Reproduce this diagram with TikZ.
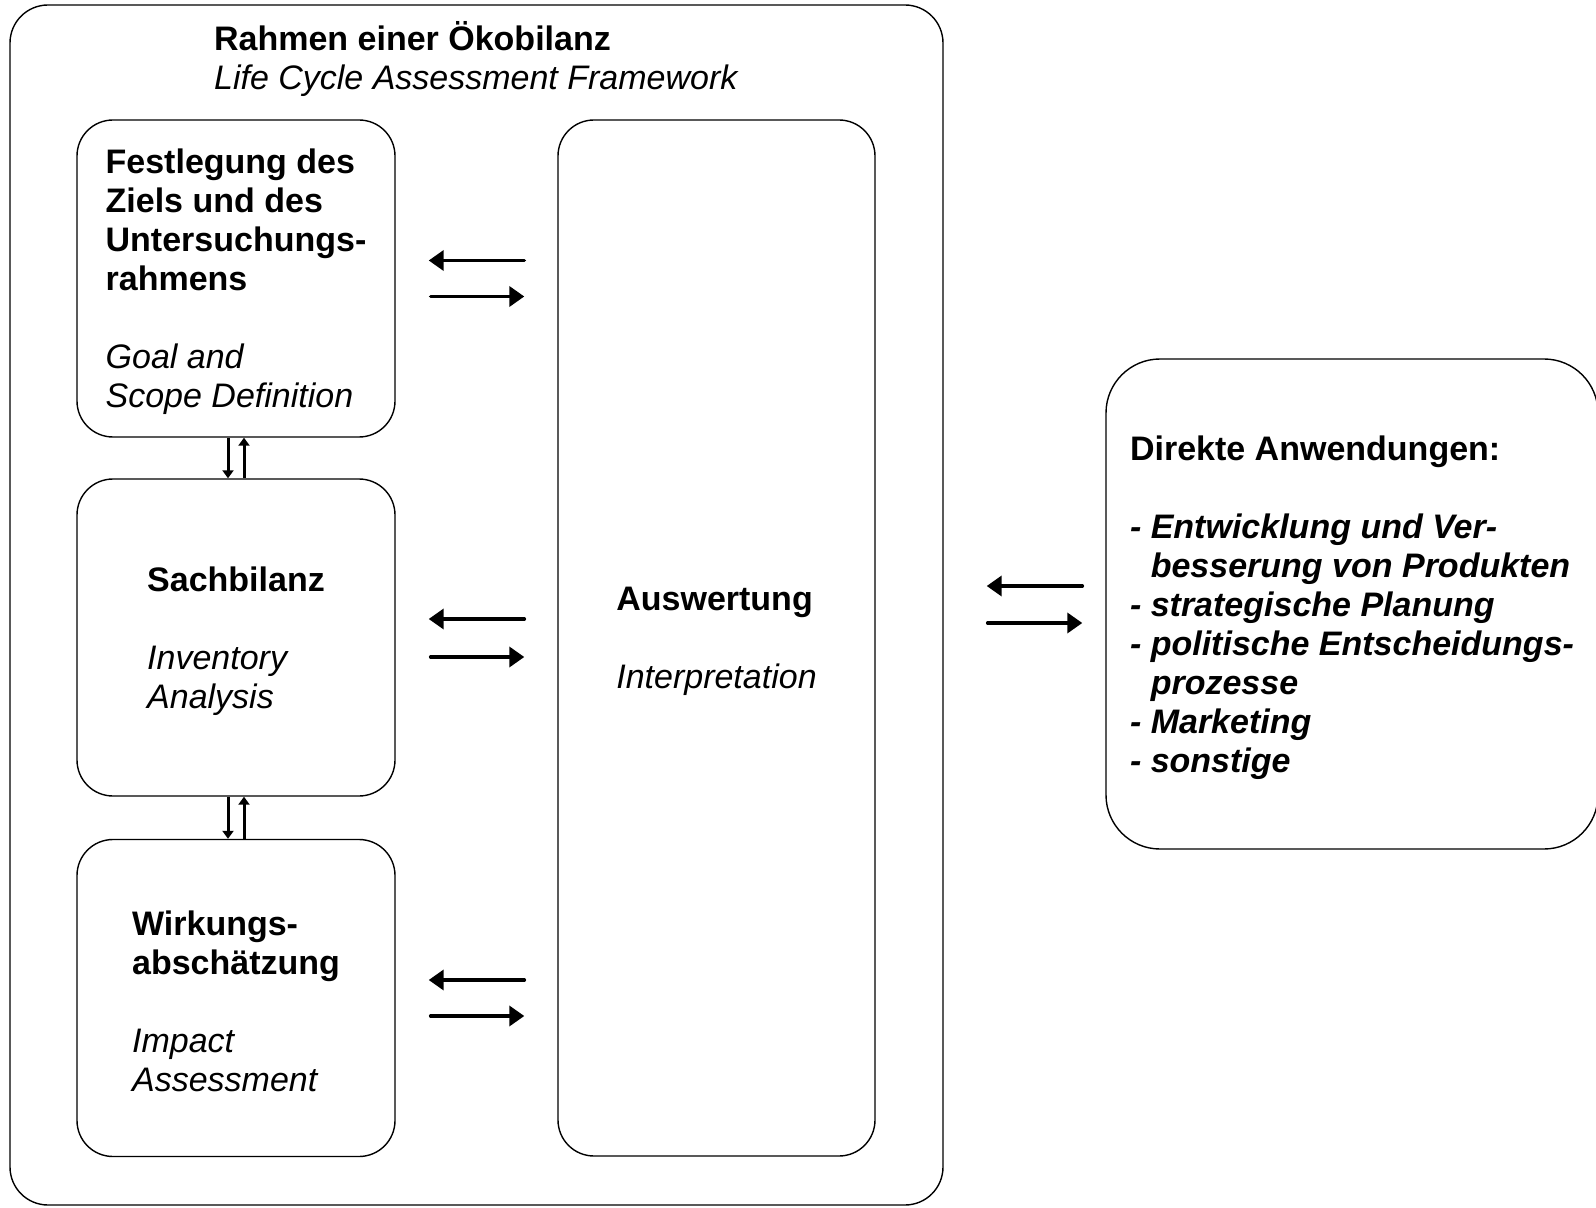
\documentclass[tikz,border=0pt]{standalone}
\usepackage{fontspec}
\setmainfont{Liberation Sans}
\usetikzlibrary{arrows.meta}
\newcommand{\anw}[1]{\textbf{\textit{#1}}}

\begin{document}
\begin{tikzpicture}[x=0.5pt, y=-0.5pt,
	box/.style={draw, rounded corners=18pt, line width=0.7pt, inner sep=0pt, minimum width=159pt, minimum height=158.5pt},
	boxtext/.style={align=left, yshift=-1.7pt},
	harr/.style={-{Triangle[length=7.5pt, width=10pt]}, line width=1.8pt, line cap=round, shorten <=16.5pt, shorten >=16.5pt},
	varr/.style={-{Triangle[length=4pt, width=5.5pt]}, line width=1.5pt},
	every node/.style={font=\fontsize{17}{19.5}\selectfont}
	]
	\useasboundingbox (0,0) rectangle (1596,1208);

	\node (rahmen) at (476.5,605) [draw, rounded corners=19pt, line width=0.7pt, inner sep=0pt, minimum width=466.5pt, minimum height=600pt] {};
	\node (titel) at (476.5,59) [align=left] {\textbf{Rahmen einer Ökobilanz}\\\textit{Life Cycle Assessment Framework}};

	\node (ziel) at (236,278.5) [box] {};
	\node (ziel-t) at (ziel) [boxtext] {\textbf{Festlegung des}\\\textbf{Ziels und des}\\\textbf{Untersuchungs-}\\\textbf{rahmens}\\[19.5pt]\textit{Goal and}\\\textit{Scope Definition}};

	\node (sach) at (236,637.5) [box] {};
	\node (sach-t) at (sach) [boxtext] {\textbf{Sachbilanz}\\[19.5pt]\textit{Inventory}\\\textit{Analysis}};

	\node (wirk) at (236,998) [box] {};
	\node (wirk-t) at (wirk) [boxtext] {\textbf{Wirkungs-}\\\textbf{abschätzung}\\[19.5pt]\textit{Impact}\\\textit{Assessment}};

	\node (ausw) at (716.5,638) [box, minimum width=158.5pt, minimum height=518pt] {};
	\node (ausw-t) at (ausw) [boxtext] {\textbf{Auswertung}\\[19.5pt]\textit{Interpretation}};

	\node (anw) at (1352,604) [box, rounded corners=27pt, minimum width=246pt, minimum height=245pt] {};
	\node (anw-t) at (anw) [boxtext] {\textbf{Direkte Anwendungen:}\\[19.5pt]\anw{- Entwicklung und Ver-}\\\anw{\hphantom{- }besserung von Produkten}\\\anw{- strategische Planung}\\\anw{- politische Entscheidungs-}\\\anw{\hphantom{- }prozesse}\\\anw{- Marketing}\\\anw{- sonstige}};

	\draw [harr] ([yshift=9pt]ausw.west |- ziel.east) -- ([yshift=9pt]ziel.east);
	\draw [harr, shorten <=17.5pt] ([yshift=-9pt]ziel.east) -- ([yshift=-9pt]ausw.west |- ziel.east);
	\draw [harr] ([yshift=9.25pt]ausw.west |- sach.east) -- ([yshift=9.25pt]sach.east);
	\draw [harr, shorten <=17.5pt] ([yshift=-9.75pt]sach.east) -- ([yshift=-9.75pt]ausw.west |- sach.east);
	\draw [harr] ([yshift=9pt]ausw.west |- wirk.east) -- ([yshift=9pt]wirk.east);
	\draw [harr, shorten <=17.5pt] ([yshift=-9pt]wirk.east) -- ([yshift=-9pt]ausw.west |- wirk.east);

	\draw [harr, shorten <=11.5pt, shorten >=21.5pt] ([yshift=9pt]anw.west) -- ([yshift=9pt]rahmen.east |- anw.west);
	\draw [harr, shorten <=22pt, shorten >=11.5pt] ([yshift=-9.5pt]rahmen.east |- anw.west) -- ([yshift=-9.5pt]anw.west);

	\draw [varr] ([xshift=-4pt]ziel.south) -- ([xshift=-4pt]sach.north);
	\draw [varr] ([xshift=4pt]sach.north) -- ([xshift=4pt]ziel.south);
	\draw [varr] ([xshift=-4pt]sach.south) -- ([xshift=-4pt]wirk.north);
	\draw [varr] ([xshift=4pt]wirk.north) -- ([xshift=4pt]sach.south);
\end{tikzpicture}
\end{document}
